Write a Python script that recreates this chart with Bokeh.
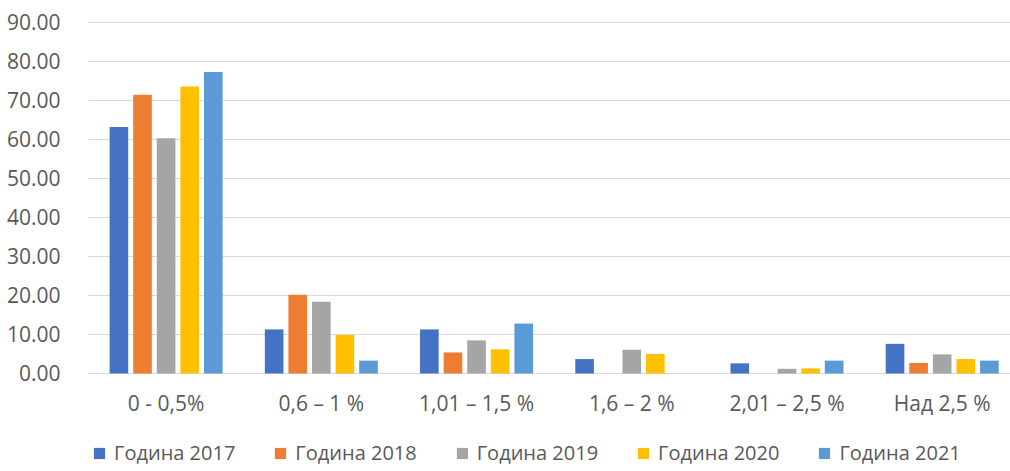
from bokeh.plotting import figure
from bokeh.models import Range1d, FixedTicker, NumeralTickFormatter, Legend, LegendItem, ColumnDataSource
from bokeh.core.properties import value
from bokeh.transform import dodge
from bokeh.embed import file_html
from bokeh.resources import INLINE

categories = ["0 - 0,5%", "0,6 – 1 %", "1,01 – 1,5 %", "1,6 – 2 %", "2,01 – 2,5 %", "Над 2,5 %"]
years = ["Година 2017", "Година 2018", "Година 2019", "Година 2020", "Година 2021"]
y2017 = [63.2, 11.3, 11.3, 3.7, 2.6, 7.6]
y2018 = [71.5, 20.2, 5.4, 0.0, 0.0, 2.7]
y2019 = [60.3, 18.4, 8.5, 6.1, 1.2, 4.9]
y2020 = [73.6, 9.9, 6.2, 5.0, 1.3, 3.7]
y2021 = [77.3, 3.3, 12.8, 0.0, 3.3, 3.3]
y_ticks = [0, 10, 20, 30, 40, 50, 60, 70, 80, 90]
colors = ["#4472C4", "#ED7D31", "#A5A5A5", "#FFC000", "#5B9BD5"]

series = [y2017, y2018, y2019, y2020, y2021]
keys = ["y2017", "y2018", "y2019", "y2020", "y2021"]
data = {"x": list(range(len(categories))), "cat": categories, "base": [0] * len(categories)}
for k, s in zip(keys, series):
    data[k] = s
src = ColumnDataSource(data)

FONT = "Open Sans"
TXT = "#595959"

# frame reaches to the bottom of the figure so that the legend sits inside it
p = figure(width=1010, height=471, output_backend="svg", toolbar_location=None,
           x_range=Range1d(-0.5, 5.44), y_range=Range1d(-25.13, 90.256),
           min_border_left=88, min_border_right=0, min_border_top=21, min_border_bottom=0)
p.outline_line_color = None

step = 0.152
renderers = []
for i, (k, c) in enumerate(zip(keys, colors)):
    r = p.vbar(x=dodge("x", (i - 2) * step, range=p.x_range), top=k, width=0.12, source=src,
               fill_color=c, line_color=None)
    renderers.append(r)

p.xgrid.grid_line_color = None
p.ygrid.grid_line_color = "#D9D9D9"
p.ygrid.grid_line_width = 1

p.yaxis.ticker = FixedTicker(ticks=y_ticks)
p.yaxis.formatter = NumeralTickFormatter(format="0.00")
p.yaxis.axis_line_color = None
p.yaxis.major_tick_line_color = None
p.yaxis.minor_tick_line_color = None
p.yaxis.major_label_standoff = 22
p.yaxis.major_label_text_font = FONT
p.yaxis.major_label_text_font_size = "21px"
p.yaxis.major_label_text_color = TXT

p.xaxis.visible = False

# category labels under the zero line
p.text(x="x", y="base", text="cat", source=src, y_offset=30,
       text_align="center", text_baseline="middle",
       text_font=value(FONT), text_font_size="21px", text_color=TXT)

lg = Legend(items=[LegendItem(label=lab, renderers=[r]) for lab, r in zip(years, renderers)])
lg.orientation = "horizontal"
lg.location = (4, 5)
lg.padding = 0
lg.margin = 0
lg.border_line_color = None
lg.background_fill_alpha = 0
lg.glyph_width = 14
lg.glyph_height = 14
lg.label_standoff = 8
lg.spacing = 38
lg.label_text_font = FONT
lg.label_text_font_size = "20px"
lg.label_text_color = TXT
lg.label_height = 20
p.add_layout(lg, "center")

open("out.html", "w").write(file_html(p, INLINE))
